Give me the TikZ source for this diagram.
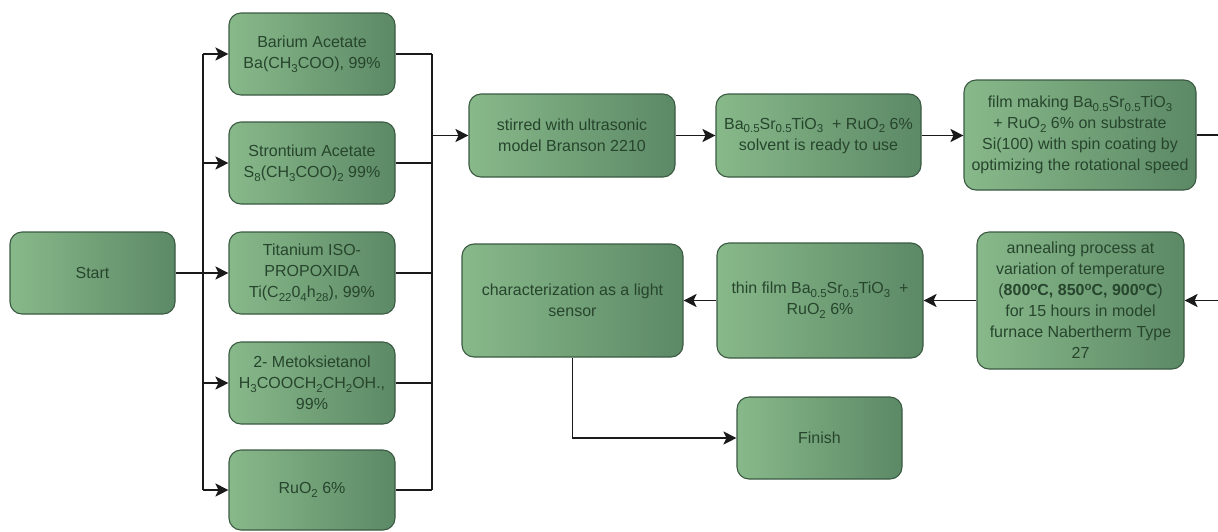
\documentclass[tikz,border=0pt]{standalone}
\usepackage{fontspec}
\setmainfont{Liberation Sans}
\usetikzlibrary{arrows.meta}
\definecolor{gLight}{HTML}{88B98A}
\definecolor{gDark}{HTML}{5C8966}
\definecolor{gBorder}{HTML}{3B5A42}
\definecolor{gText}{HTML}{27452D}
\definecolor{lineC}{HTML}{1A1A1A}
\newcommand\sbs[1]{\raisebox{-3.8pt}{\fontsize{11.5}{11.5}\selectfont #1}}
\newcommand\sps[1]{\raisebox{5pt}{\fontsize{11.5}{11.5}\selectfont #1}}
\tikzset{
  box/.style={draw=gBorder, line width=1.1pt, rounded corners=12pt,
    left color=gLight, right color=gDark, text=gText, align=center,
    inner sep=2pt, font=\fontsize{16}{21}\selectfont},
  conn/.style={draw=lineC, line width=1.6pt},
  arr/.style={conn, arrows={-Stealth[length=13pt,width=13pt,inset=3pt]}}
}
\begin{document}
\begin{tikzpicture}[x=1pt,y=-1pt]
\useasboundingbox (0,0) rectangle (1218,531);
\clip (0,0) rectangle (1218,531);
% nodes
\node[box, minimum width=165pt, minimum height=82pt] (start) at (92.5,273) {Start};
\node[box, minimum width=166pt, minimum height=82pt] (ba) at (312,54) {Barium Acetate\\Ba(CH\sbs{3}COO), 99\%};
\node[box, minimum width=166pt, minimum height=82pt] (sr) at (312,163) {Strontium Acetate\\S\sbs{8}(CH\sbs{3}COO)\sbs{2} 99\%};
\node[box, minimum width=166pt, minimum height=82pt] (ti) at (312,273) {Titanium ISO-\\PROPOXIDA\\Ti(C\sbs{22}0\sbs{4}h\sbs{28}), 99\%};
\node[box, minimum width=166pt, minimum height=82pt] (me) at (312,383) {2- Metoksietanol\\H\sbs{3}COOCH\sbs{2}CH\sbs{2}OH.,\\99\%};
\node[box, minimum width=166pt, minimum height=80pt] (ru) at (312,490) {RuO\sbs{2} 6\%};
\node[box, minimum width=206pt, minimum height=83pt] (stir) at (572,135.5) {stirred with ultrasonic\\model Branson 2210};
\node[box, minimum width=205pt, minimum height=83pt] (sol) at (818.5,135.5) {Ba\sbs{0.5}Sr\sbs{0.5}TiO\sbs{3}\ \ + RuO\sbs{2} 6\%\\solvent is ready to use};
\node[box, minimum width=232pt, minimum height=110pt] (film) at (1080,135) {film making Ba\sbs{0.5}Sr\sbs{0.5}TiO\sbs{3}\\+ RuO\sbs{2} 6\% on substrate\\Si(100) with spin coating by\\optimizing the rotational speed};
\node[box, minimum width=207pt, minimum height=137pt] (ann) at (1080.5,300.5) {annealing process at\\variation of temperature\\(\textbf{800\sps{o}C, 850\sps{o}C, 900\sps{o}C})\\for 15 hours in model\\furnace Nabertherm Type\\27};
\node[box, minimum width=206pt, minimum height=115pt] (thin) at (820,300.5) {thin film Ba\sbs{0.5}Sr\sbs{0.5}TiO\sbs{3}\ \ +\\RuO\sbs{2} 6\%};
\node[box, minimum width=221pt, minimum height=113pt] (char) at (572.5,300.5) {characterization as a light\\sensor};
\node[box, minimum width=165pt, minimum height=82pt] (fin) at (819.5,438) {Finish};
% bus coordinates
\coordinate (lb) at (203,273);
\coordinate (lbt) at (203,54);
\coordinate (lbb) at (203,490);
\coordinate (rbt) at (432,54);
\coordinate (rbb) at (432,490);
\coordinate (rbm) at (432,135.5);
\coordinate (edgeA) at (1240,135);
\coordinate (edgeB) at (1240,300.5);
% connectors
\draw[conn] (start.east) -- (lb);
\draw[conn] (lbt) -- (lbb);
\draw[arr] (lbt) -- (ba.west);
\draw[arr] (203,163) -- (sr.west);
\draw[arr] (lb) -- (ti.west);
\draw[arr] (203,383) -- (me.west);
\draw[arr] (lbb) -- (ru.west);
\draw[conn] (ba.east) -- (rbt);
\draw[conn] (sr.east) -- (432,163);
\draw[conn] (ti.east) -- (432,273);
\draw[conn] (me.east) -- (432,383);
\draw[conn] (ru.east) -- (rbb);
\draw[conn] (rbt) -- (rbb);
\draw[arr] (rbm) -- (stir.west);
\draw[arr] (stir.east) -- (sol.west);
\draw[arr] (sol.east) -- (sol.east -| film.west);
\draw[conn] (film.east |- edgeA) -- (edgeA) -- (edgeB);
\draw[arr] (edgeB) -- (ann.east);
\draw[arr] (ann.west) -- (thin.east);
\draw[arr] (thin.west) -- (char.east);
\draw[arr] (char.south) |- (fin.west);
\end{tikzpicture}
\end{document}
